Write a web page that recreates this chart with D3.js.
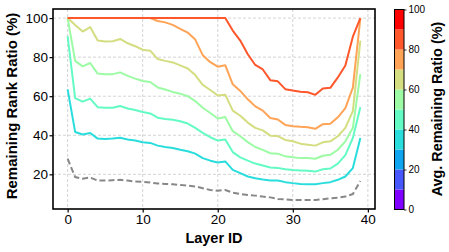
<!DOCTYPE html>
<html>
<head>
<meta charset="utf-8">
<script src="https://cdn.jsdelivr.net/npm/d3@7"></script>
<style>
    body { margin: 0; background: #fff; }
    svg { font-family: "Liberation Sans", Arial, sans-serif; }
</style>
</head>
<body>
<div id="chart"></div>
<script>
// layer ids on the x axis
const layers = d3.range(40);

// remaining rank ratio (%) per layer, one array per line
const ratio85 = [100, 100, 100, 100, 100, 100, 100, 100, 100, 100, 100, 100, 100, 100, 100, 100, 100, 100, 100, 100,
    100, 100, 93.6, 88.5, 81.5, 76, 73.7, 68.2, 67.6, 63.6, 62.9, 62.3, 62, 60.7, 64, 64.3, 69.6, 75.7, 90.5, 100];
const ratio75 = [100, 100, 100, 100, 100, 100, 100, 100, 100, 100, 100, 100, 98.5, 97.8, 96.5, 94.5, 92.6, 89, 81, 77.4,
    75.1, 75.9, 66.1, 62.7, 58.4, 54.8, 52.6, 48.8, 48.1, 45.3, 44.6, 44.3, 44.1, 43.3, 45.7, 45.9, 49.2, 53.9, 64.4, 100];
const ratio65 = [100, 96.5, 93.1, 95.4, 88.5, 88, 88.1, 89.3, 87.1, 85.6, 83.8, 83.3, 79, 78.1, 77.3, 75.8, 74.2, 70.8, 65.8, 63.2,
    60.4, 60.8, 52.6, 50, 46.5, 43.8, 42.5, 39.8, 39.6, 37.6, 36.9, 35.7, 35.2, 34.7, 36.4, 36.9, 39.5, 43.8, 52.4, 88.5];
const ratio55 = [100, 78.1, 75.3, 77, 71.6, 71.3, 71.3, 72.2, 70.4, 69, 67.8, 67.3, 64.5, 63.4, 62.2, 61.3, 60, 57.5, 54.1, 51.4,
    48.6, 49.3, 42.1, 39.5, 36.5, 34, 32.5, 30.8, 30.6, 29.2, 28.7, 28.3, 28.3, 28, 29.5, 30, 32.6, 36.9, 43.8, 71.3];
const ratio45 = [90.7, 59, 57.2, 58.8, 54.4, 54.1, 54.1, 55, 53.7, 52.9, 51.9, 51.2, 49, 48.3, 47.9, 47.2, 46, 43.8, 41.2, 39,
    37.3, 37.8, 31.4, 28.7, 27, 25.5, 24.5, 23.5, 23.3, 22.6, 22.2, 22, 21.8, 21.4, 22.6, 23, 25.5, 29.8, 38.6, 54.4];
const ratio35 = [63.5, 41.7, 40.4, 41.2, 38.3, 38.1, 38.3, 38.7, 37.8, 37.3, 36.4, 36.1, 34.7, 34, 33.5, 32.6, 31.8, 30.6, 28.3, 27,
    26.1, 26.6, 22.3, 20.6, 18.9, 18, 17.4, 16.9, 16.8, 16, 15.5, 15.1, 14.9, 14.9, 15.5, 16, 17.2, 18.9, 23.2, 38.6];
const baseline = [28, 18.6, 17.8, 18.4, 16.8, 16.8, 17, 17.2, 16.8, 16.3, 16.2, 15.8, 15.3, 15.1, 14.9, 14.6, 14.2, 13.8, 12.9, 12,
    11.6, 12, 10.6, 9.9, 9.4, 9.1, 8.6, 8.2, 7.4, 7.2, 6.9, 6.9, 6.9, 6.9, 7.2, 7.7, 8, 8.6, 9.9, 16.6];

// avg remaining ratio used to colour each line (same order as the arrays below)
const lineSeries = [ratio35, ratio45, ratio55, ratio65, ratio75, ratio85];
const lineAvg = [35, 45, 55, 65, 75, 85];

const xTicks = [0, 10, 20, 30, 40];
const yTicks = [20, 40, 60, 80, 100];
const barTicks = [0, 20, 40, 60, 80, 100];

class rankRatioChart {
    constructor(parentElement) {
        this.parentElement = parentElement;
        this.initVis();
    }

    // matplotlib "rainbow" colormap
    rainbow(t) {
        let r = Math.min(1, Math.abs(2 * t - 0.5));
        let g = Math.sin(t * Math.PI);
        let b = Math.cos(t * Math.PI / 2);
        return d3.rgb(r * 255, g * 255, b * 255).formatHex();
    }

    // 10 discrete bins
    binColor(v) {
        let k = Math.min(9, Math.floor(v / 10));
        return this.rainbow(k / 9);
    }

    initVis() {
        let vis = this;
        vis.box = {left: 53, right: 375, top: 9, bottom: 209};

        vis.svg = d3.select("#" + vis.parentElement).append("svg")
            .attr("width", 449)
            .attr("height", 252);

        vis.x = d3.scaleLinear()
            .domain([-1.95, 40.95])
            .range([vis.box.left, vis.box.right]);

        vis.y = d3.scaleLinear()
            .domain([2.25, 104.65])
            .range([vis.box.bottom, vis.box.top]);

        vis.updateVis();
    }

    updateVis() {
        let vis = this;

        // grid
        vis.svg.append("g").selectAll("line.gx")
            .data(xTicks).enter().append("line")
            .attr("x1", d => vis.x(d)).attr("x2", d => vis.x(d))
            .attr("y1", vis.box.top).attr("y2", vis.box.bottom)
            .attr("stroke", "#cfcfcf").attr("stroke-width", 0.9)
            .attr("stroke-dasharray", "3,2");
        vis.svg.append("g").selectAll("line.gy")
            .data(yTicks).enter().append("line")
            .attr("x1", vis.box.left).attr("x2", vis.box.right)
            .attr("y1", d => vis.y(d)).attr("y2", d => vis.y(d))
            .attr("stroke", "#cfcfcf").attr("stroke-width", 0.9)
            .attr("stroke-dasharray", "3,2");

        let line = d3.line()
            .x((d, i) => vis.x(layers[i]))
            .y(d => vis.y(d));

        // baseline (dashed gray)
        vis.svg.append("path")
            .datum(baseline)
            .attr("d", line)
            .attr("fill", "none")
            .attr("stroke", "#888888")
            .attr("stroke-width", 2)
            .attr("stroke-dasharray", "6,3");

        vis.svg.append("g").selectAll("path")
            .data(lineSeries).enter().append("path")
            .attr("d", line)
            .attr("fill", "none")
            .attr("stroke", (d, i) => vis.binColor(lineAvg[i]))
            .attr("stroke-width", 2)
            .attr("stroke-linejoin", "round");

        // axes
        let xAxis = d3.axisBottom(vis.x).tickValues(xTicks).tickSize(3.5).tickPadding(2);
        let yAxis = d3.axisLeft(vis.y).tickValues(yTicks).tickSize(3.5).tickPadding(1.5);

        let gx = vis.svg.append("g")
            .attr("transform", "translate(0," + vis.box.bottom + ")")
            .call(xAxis);
        let gy = vis.svg.append("g")
            .attr("transform", "translate(" + vis.box.left + ",0)")
            .call(yAxis);
        [gx, gy].forEach(g => {
            g.select(".domain").remove();
            g.selectAll("line").attr("stroke", "#000").attr("stroke-width", 1.2);
            g.selectAll("text").attr("font-size", "13.5px").attr("fill", "#000")
                .attr("font-family", "Liberation Sans, Arial, sans-serif");
        });

        // spines
        vis.svg.append("rect")
            .attr("x", vis.box.left).attr("y", vis.box.top)
            .attr("width", vis.box.right - vis.box.left)
            .attr("height", vis.box.bottom - vis.box.top)
            .attr("fill", "none").attr("stroke", "#000").attr("stroke-width", 1.6);

        vis.svg.append("text")
            .attr("x", (vis.box.left + vis.box.right) / 2)
            .attr("y", 243)
            .attr("text-anchor", "middle")
            .attr("font-size", "14.5px").attr("font-weight", "bold")
            .text("Layer ID");

        vis.svg.append("text")
            .attr("transform", "translate(17,106) rotate(-90)")
            .attr("text-anchor", "middle")
            .attr("font-size", "15px").attr("font-weight", "bold")
            .text("Remaining Rank Ratio (%)");

        // colorbar
        let cb = {left: 394.5, width: 9.5};
        let cbY = d3.scaleLinear().domain([0, 100]).range([209.5, 9.5]);
        let bands = d3.range(0, 100, 10);

        vis.svg.append("g").selectAll("rect")
            .data(bands).enter().append("rect")
            .attr("x", cb.left)
            .attr("y", d => cbY(d + 10))
            .attr("width", cb.width)
            .attr("height", d => cbY(d) - cbY(d + 10))
            .attr("fill", d => vis.binColor(d));

        vis.svg.append("rect")
            .attr("x", cb.left).attr("y", cbY(100))
            .attr("width", cb.width).attr("height", cbY(0) - cbY(100))
            .attr("fill", "none").attr("stroke", "#000").attr("stroke-width", 1);

        let cbAxis = d3.axisRight(cbY).tickValues(barTicks).tickSize(2.5).tickPadding(2);
        let gc = vis.svg.append("g")
            .attr("transform", "translate(" + (cb.left + cb.width) + ",0)")
            .call(cbAxis);
        gc.select(".domain").remove();
        gc.selectAll("line").attr("stroke", "#000").attr("stroke-width", 0.8);
        gc.selectAll("text").attr("font-size", "10px").attr("fill", "#000")
            .attr("font-family", "Liberation Sans, Arial, sans-serif");

        vis.svg.append("text")
            .attr("transform", "translate(442,109) rotate(-90)")
            .attr("text-anchor", "middle")
            .attr("font-size", "14.4px").attr("font-weight", "bold")
            .text("Avg. Remaining Ratio (%)");
    }
}

new rankRatioChart("chart");
</script>
</body>
</html>
